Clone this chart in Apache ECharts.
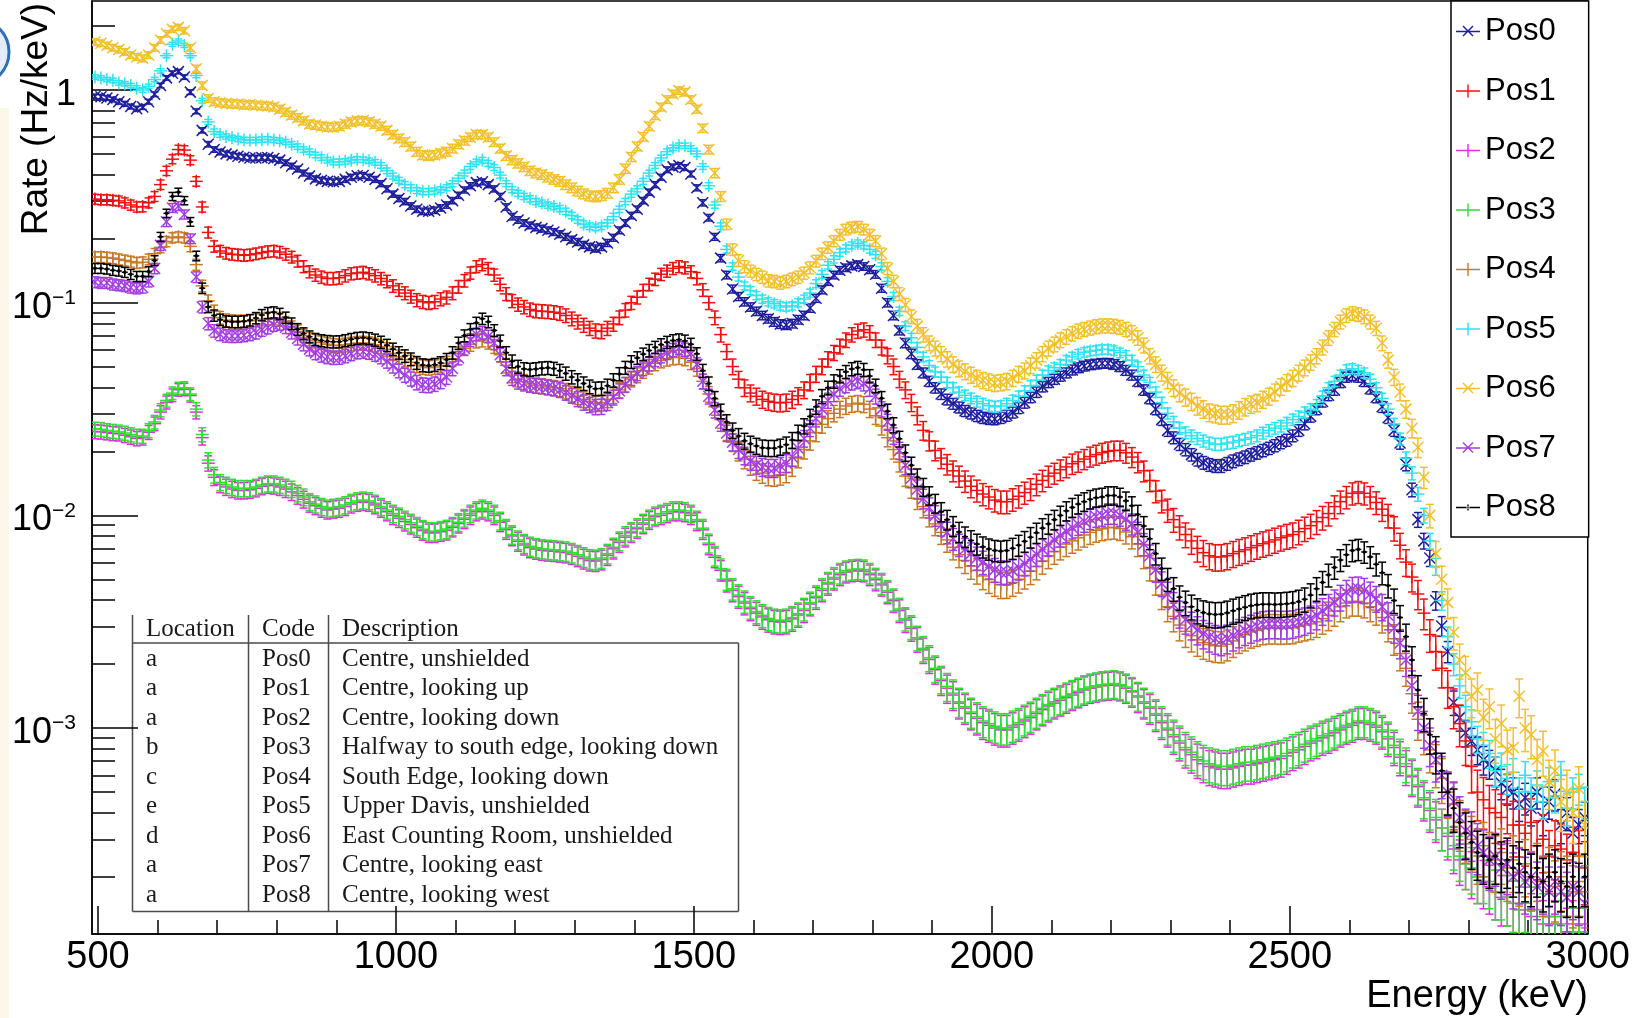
<!DOCTYPE html>
<html>
<head>
<meta charset="utf-8">
<script src="https://cdn.jsdelivr.net/npm/echarts@6/dist/echarts.min.js"></script>
<style>
html,body{margin:0;padding:0;background:#fff;}
#main{width:1633px;height:1018px;}
</style>
</head>
<body>
<div id="main"></div>
<script>
// ---------- data (Rate in Hz/keV, 10 keV bins starting at 490 keV) ----------
const binStart = 490;
const binWidth = 10;
const seriesNames = ['Pos0','Pos1','Pos2','Pos3','Pos4','Pos5','Pos6','Pos7','Pos8'];

const pos0 = [
0.933,0.929,0.918,0.902,0.881,0.861,0.836,0.817,0.832,0.881,
0.955,1.05,1.14,1.20,1.22,1.15,0.977,0.794,0.646,0.556,
0.525,0.511,0.501,0.494,0.488,0.483,0.479,0.479,0.481,0.481,
0.476,0.468,0.455,0.439,0.425,0.407,0.394,0.382,0.376,0.372,
0.370,0.372,0.380,0.389,0.395,0.396,0.389,0.380,0.363,0.343,
0.324,0.309,0.299,0.285,0.275,0.269,0.269,0.272,0.279,0.288,
0.302,0.320,0.339,0.355,0.367,0.370,0.359,0.343,0.316,0.282,
0.254,0.245,0.237,0.231,0.226,0.223,0.219,0.215,0.210,0.204,
0.198,0.193,0.187,0.183,0.180,0.183,0.191,0.202,0.219,0.237,
0.257,0.275,0.302,0.331,0.359,0.389,0.422,0.435,0.441,0.432,
0.403,0.347,0.295,0.251,0.204,0.162,0.135,0.116,0.107,0.101,
0.0955,0.0912,0.0871,0.0841,0.0813,0.0794,0.0785,0.0798,0.0832,0.0871,
0.0944,0.105,0.115,0.126,0.135,0.142,0.146,0.149,0.151,0.148,
0.143,0.136,0.117,0.100,0.0871,0.0741,0.0646,0.0575,0.0513,0.0468,
0.0427,0.0398,0.0372,0.0351,0.0335,0.0322,0.0310,0.0302,0.0294,0.0288,
0.0285,0.0284,0.0288,0.0295,0.0305,0.0320,0.0339,0.0359,0.0380,0.0403,
0.0422,0.0437,0.0452,0.0468,0.0483,0.0495,0.0504,0.0511,0.0515,0.0519,
0.0519,0.0513,0.0501,0.0481,0.0457,0.0427,0.0389,0.0355,0.0316,0.0282,
0.0251,0.0232,0.0216,0.0204,0.0193,0.0183,0.0177,0.0173,0.0171,0.0171,
0.0175,0.0180,0.0184,0.0188,0.0193,0.0197,0.0202,0.0207,0.0213,0.0220,
0.0226,0.0237,0.0251,0.0269,0.0292,0.0316,0.0343,0.0367,0.0389,0.0422,
0.0447,0.0455,0.0447,0.0427,0.0394,0.0359,0.0324,0.0288,0.0251,0.0219,
0.0174,0.0132,0.00955,0.00759,0.00631,0.00398,0.00302,0.00229,0.00132,0.00112,
0.00095,0.00087,0.00079,0.00071,0.00068,0.00063,0.00055,0.00052,0.00050,0.00044,
0.00047,0.00042,0.00050,0.00038,0.00045,0.00049,0.00035,0.00040,0.00032,0.00035,
0.00038];

const pos1 = [
0.307,0.305,0.305,0.303,0.301,0.295,0.288,0.282,0.283,0.295,
0.316,0.359,0.417,0.473,0.525,0.522,0.468,0.372,0.282,0.214,
0.184,0.175,0.171,0.169,0.168,0.167,0.168,0.170,0.172,0.174,
0.175,0.173,0.169,0.164,0.157,0.148,0.140,0.135,0.132,0.130,
0.130,0.131,0.134,0.137,0.138,0.139,0.137,0.134,0.130,0.126,
0.120,0.115,0.111,0.107,0.103,0.101,0.100,0.101,0.104,0.106,
0.111,0.119,0.127,0.138,0.148,0.151,0.145,0.135,0.122,0.110,
0.102,0.0982,0.0955,0.0929,0.0916,0.0912,0.0908,0.0902,0.0891,0.0871,
0.0841,0.0813,0.0785,0.0759,0.0738,0.0733,0.0759,0.0794,0.0851,0.0923,
0.100,0.106,0.114,0.122,0.129,0.136,0.141,0.145,0.148,0.146,
0.140,0.130,0.115,0.100,0.0851,0.0708,0.0589,0.0501,0.0437,0.0398,
0.0376,0.0363,0.0351,0.0344,0.0340,0.0338,0.0340,0.0351,0.0365,0.0389,
0.0422,0.0462,0.0501,0.0543,0.0582,0.0624,0.0668,0.0708,0.0736,0.0746,
0.0724,0.0668,0.0617,0.0562,0.0501,0.0437,0.0389,0.0339,0.0295,0.0251,
0.0224,0.0202,0.0186,0.0174,0.0162,0.0153,0.0145,0.0137,0.0131,0.0126,
0.0122,0.0118,0.0116,0.0116,0.0119,0.0123,0.0128,0.0133,0.0140,0.0146,
0.0153,0.0158,0.0164,0.0169,0.0175,0.0179,0.0184,0.0189,0.0193,0.0197,
0.0200,0.0202,0.0202,0.0197,0.0188,0.0178,0.0162,0.0146,0.0130,0.0117,
0.0106,0.00955,0.00881,0.00813,0.00759,0.00700,0.00668,0.00646,0.00637,0.00638,
0.00646,0.00661,0.00676,0.00689,0.00705,0.00721,0.00736,0.00750,0.00767,0.00785,
0.00800,0.00813,0.00838,0.00867,0.00895,0.00933,0.00977,0.0102,0.0110,0.0116,
0.0122,0.0127,0.0129,0.0127,0.0122,0.0115,0.0107,0.0100,0.00871,0.00724,
0.00603,0.00513,0.00427,0.00347,0.00275,0.00229,0.00191,0.00155,0.00126,0.00105,
0.00087,0.00066,0.00050,0.00046,0.00042,0.00040,0.00038,0.00044,0.00035,0.00035,
0.00032,0.00036,0.00028,0.00030,0.00025,0.00028,0.00027,0.00024,0.00026,0.00025,
0.00022];

const pos2 = [
0.0248,0.0247,0.0245,0.0243,0.0242,0.0238,0.0234,0.0230,0.0232,0.0246,
0.0270,0.0306,0.0340,0.0368,0.0390,0.0392,0.0366,0.0306,0.0232,0.0176,
0.0151,0.0140,0.0136,0.0133,0.0131,0.0131,0.0132,0.0134,0.0137,0.0139,
0.0138,0.0136,0.0133,0.0129,0.0124,0.0119,0.0114,0.0111,0.0108,0.0106,
0.0107,0.0108,0.0110,0.0113,0.0115,0.0116,0.0115,0.0112,0.0108,0.0104,
0.0100,0.00970,0.00935,0.00905,0.00875,0.00848,0.00828,0.00828,0.00838,0.00850,
0.00878,0.00915,0.00958,0.0100,0.0104,0.0106,0.0104,0.0100,0.00928,0.00856,
0.00800,0.00755,0.00726,0.00705,0.00694,0.00686,0.00681,0.00678,0.00673,0.00668,
0.00657,0.00642,0.00626,0.00613,0.00610,0.00620,0.00650,0.00696,0.00746,0.00790,
0.00828,0.00865,0.00908,0.00950,0.00985,0.0100,0.0102,0.0104,0.0104,0.0103,
0.0100,0.00938,0.00855,0.00728,0.00635,0.00552,0.00492,0.00444,0.00415,0.00387,
0.00364,0.00347,0.00333,0.00323,0.00317,0.00315,0.00317,0.00326,0.00340,0.00357,
0.00383,0.00410,0.00444,0.00476,0.00502,0.00526,0.00541,0.00548,0.00551,0.00547,
0.00526,0.00498,0.00471,0.00435,0.00397,0.00357,0.00322,0.00294,0.00262,0.00233,
0.00210,0.00188,0.00167,0.00154,0.00143,0.00131,0.00124,0.00117,0.00111,0.00106,
0.00103,0.00100,0.00098,0.00098,0.00101,0.00104,0.00108,0.00112,0.00117,0.00122,
0.00127,0.00131,0.00135,0.00139,0.00143,0.00147,0.00151,0.00154,0.00156,0.00158,
0.00159,0.00160,0.00158,0.00154,0.00148,0.00140,0.00131,0.00124,0.00115,0.00106,
0.00098,0.00091,0.00085,0.00079,0.00075,0.00071,0.00068,0.00066,0.00065,0.00064,
0.00064,0.00065,0.00066,0.00067,0.00067,0.00068,0.00069,0.00070,0.00071,0.00072,
0.00074,0.00077,0.00079,0.00082,0.00085,0.00087,0.00090,0.00092,0.00095,0.00098,
0.00101,0.00103,0.00106,0.00106,0.00104,0.00101,0.00096,0.00089,0.00081,0.00073,
0.00066,0.00059,0.00053,0.00046,0.00041,0.00037,0.00034,0.00031,0.00027,0.00024,
0.00023,0.00021,0.00020,0.00019,0.00018,0.00017,0.00016,0.00016,0.00015,0.00014,
0.00014,0.00013,0.00014,0.00012,0.00013,0.00012,0.00013,0.00011,0.00012,0.00011,
0.00012];

const pos3 = [
0.0255,0.0254,0.0251,0.0249,0.0247,0.0244,0.0240,0.0236,0.0236,0.0251,
0.0275,0.0313,0.0347,0.0376,0.0396,0.0398,0.0372,0.0316,0.0240,0.0182,
0.0155,0.0143,0.0139,0.0136,0.0134,0.0134,0.0134,0.0136,0.0139,0.0141,
0.0141,0.0139,0.0136,0.0133,0.0127,0.0122,0.0116,0.0113,0.0110,0.0108,
0.0109,0.0110,0.0112,0.0115,0.0117,0.0118,0.0117,0.0114,0.0110,0.0106,
0.0102,0.00989,0.00955,0.00923,0.00891,0.00861,0.00841,0.00841,0.00851,0.00863,
0.00891,0.00929,0.00973,0.0102,0.0106,0.0108,0.0106,0.0102,0.00944,0.00871,
0.00813,0.00767,0.00738,0.00716,0.00705,0.00697,0.00692,0.00689,0.00684,0.00679,
0.00668,0.00653,0.00637,0.00624,0.00621,0.00631,0.00661,0.00708,0.00759,0.00804,
0.00841,0.00879,0.00923,0.00966,0.0100,0.0102,0.0104,0.0106,0.0106,0.0105,
0.0102,0.00955,0.00871,0.00741,0.00646,0.00562,0.00501,0.00452,0.00422,0.00394,
0.00370,0.00353,0.00339,0.00328,0.00322,0.00320,0.00322,0.00331,0.00345,0.00363,
0.00389,0.00417,0.00452,0.00484,0.00511,0.00535,0.00550,0.00557,0.00560,0.00556,
0.00535,0.00507,0.00479,0.00442,0.00403,0.00363,0.00327,0.00299,0.00266,0.00237,
0.00214,0.00191,0.00170,0.00157,0.00146,0.00133,0.00126,0.00119,0.00113,0.00108,
0.00105,0.00102,0.00100,0.00100,0.00103,0.00106,0.00110,0.00114,0.00119,0.00124,
0.00129,0.00133,0.00137,0.00141,0.00145,0.00149,0.00153,0.00156,0.00158,0.00160,
0.00161,0.00162,0.00160,0.00156,0.00150,0.00142,0.00133,0.00126,0.00117,0.00108,
0.00100,0.00093,0.00087,0.00081,0.00077,0.00073,0.00070,0.00068,0.00067,0.00066,
0.00066,0.00067,0.00068,0.00069,0.00069,0.00070,0.00071,0.00072,0.00073,0.00074,
0.00076,0.00079,0.00081,0.00084,0.00087,0.00089,0.00092,0.00094,0.00097,0.00100,
0.00103,0.00105,0.00108,0.00108,0.00106,0.00103,0.00098,0.00091,0.00083,0.00075,
0.00068,0.00060,0.00054,0.00047,0.00042,0.00038,0.00034,0.00032,0.00028,0.00025,
0.00023,0.00022,0.00020,0.00020,0.00019,0.00017,0.00017,0.00016,0.00015,0.00014,
0.00015,0.00014,0.00014,0.00013,0.00013,0.00013,0.00012,0.00013,0.00011,0.00013,
0.00011];

const pos4 = [
0.164,0.164,0.163,0.162,0.160,0.158,0.156,0.154,0.155,0.160,
0.170,0.182,0.194,0.202,0.204,0.202,0.184,0.151,0.120,0.102,
0.0912,0.0851,0.0828,0.0820,0.0817,0.0818,0.0822,0.0828,0.0836,0.0843,
0.0845,0.0832,0.0804,0.0767,0.0733,0.0700,0.0676,0.0661,0.0649,0.0638,
0.0631,0.0628,0.0634,0.0641,0.0646,0.0647,0.0643,0.0634,0.0621,0.0603,
0.0578,0.0556,0.0540,0.0525,0.0509,0.0499,0.0495,0.0499,0.0507,0.0519,
0.0543,0.0575,0.0610,0.0638,0.0661,0.0668,0.0653,0.0624,0.0569,0.0507,
0.0457,0.0437,0.0425,0.0415,0.0409,0.0406,0.0402,0.0398,0.0394,0.0385,
0.0373,0.0363,0.0351,0.0343,0.0337,0.0339,0.0351,0.0367,0.0389,0.0412,
0.0437,0.0457,0.0479,0.0501,0.0519,0.0535,0.0545,0.0552,0.0555,0.0547,
0.0525,0.0490,0.0427,0.0372,0.0324,0.0282,0.0248,0.0221,0.0200,0.0184,
0.0172,0.0163,0.0158,0.0154,0.0153,0.0155,0.0159,0.0170,0.0186,0.0204,
0.0224,0.0245,0.0268,0.0285,0.0302,0.0316,0.0327,0.0334,0.0337,0.0333,
0.0316,0.0294,0.0263,0.0232,0.0204,0.0178,0.0153,0.0135,0.0120,0.0110,
0.0100,0.00912,0.00832,0.00767,0.00708,0.00653,0.00614,0.00578,0.00550,0.00519,
0.00499,0.00484,0.00473,0.00474,0.00484,0.00501,0.00522,0.00547,0.00575,0.00610,
0.00646,0.00676,0.00708,0.00733,0.00759,0.00785,0.00809,0.00832,0.00851,0.00865,
0.00875,0.00879,0.00867,0.00836,0.00794,0.00733,0.00646,0.00569,0.00490,0.00422,
0.00372,0.00335,0.00305,0.00285,0.00272,0.00260,0.00252,0.00247,0.00244,0.00243,
0.00248,0.00257,0.00268,0.00275,0.00283,0.00288,0.00293,0.00295,0.00295,0.00294,
0.00295,0.00296,0.00301,0.00305,0.00309,0.00316,0.00327,0.00339,0.00355,0.00372,
0.00387,0.00394,0.00394,0.00387,0.00372,0.00359,0.00331,0.00302,0.00263,0.00224,
0.00191,0.00145,0.00110,0.00095,0.00079,0.00068,0.00058,0.00050,0.00044,0.00036,
0.00032,0.00030,0.00026,0.00028,0.00025,0.00024,0.00026,0.00022,0.00024,0.00021,
0.00023,0.00020,0.00022,0.00019,0.00021,0.00018,0.00020,0.00019,0.00017,0.00019,
0.00017];

const pos5 = [
1.15,1.14,1.12,1.11,1.08,1.07,1.05,1.02,1.00,1.04,
1.12,1.23,1.45,1.64,1.70,1.62,1.45,1.17,0.891,0.708,
0.638,0.617,0.605,0.596,0.589,0.583,0.581,0.582,0.585,0.586,
0.582,0.578,0.569,0.556,0.542,0.525,0.513,0.495,0.481,0.468,
0.459,0.459,0.462,0.468,0.472,0.470,0.465,0.457,0.442,0.417,
0.394,0.376,0.359,0.347,0.337,0.333,0.333,0.335,0.340,0.347,
0.363,0.385,0.407,0.437,0.459,0.468,0.452,0.432,0.398,0.363,
0.340,0.327,0.316,0.308,0.299,0.294,0.288,0.283,0.277,0.269,
0.257,0.245,0.234,0.229,0.226,0.229,0.237,0.254,0.275,0.299,
0.324,0.343,0.372,0.407,0.442,0.479,0.513,0.535,0.547,0.547,
0.531,0.501,0.437,0.355,0.288,0.229,0.178,0.148,0.132,0.120,
0.114,0.108,0.104,0.101,0.0989,0.0966,0.0955,0.0966,0.100,0.104,
0.111,0.123,0.136,0.150,0.160,0.172,0.180,0.186,0.190,0.186,
0.178,0.168,0.148,0.126,0.107,0.0912,0.0776,0.0684,0.0617,0.0556,
0.0507,0.0473,0.0447,0.0422,0.0398,0.0380,0.0367,0.0355,0.0343,0.0335,
0.0328,0.0324,0.0327,0.0335,0.0347,0.0363,0.0385,0.0407,0.0432,0.0457,
0.0479,0.0495,0.0513,0.0537,0.0556,0.0573,0.0585,0.0592,0.0597,0.0603,
0.0603,0.0596,0.0582,0.0565,0.0537,0.0501,0.0457,0.0422,0.0380,0.0339,
0.0302,0.0275,0.0257,0.0245,0.0237,0.0230,0.0224,0.0219,0.0216,0.0216,
0.0219,0.0221,0.0225,0.0228,0.0232,0.0237,0.0244,0.0251,0.0257,0.0263,
0.0272,0.0282,0.0292,0.0305,0.0316,0.0331,0.0363,0.0398,0.0427,0.0457,
0.0484,0.0490,0.0481,0.0468,0.0437,0.0398,0.0355,0.0316,0.0269,0.0229,
0.0186,0.0158,0.0126,0.0100,0.00759,0.00575,0.00398,0.00269,0.00200,0.00158,
0.00126,0.00107,0.00089,0.00083,0.00076,0.00063,0.00066,0.00058,0.00062,0.00050,
0.00060,0.00050,0.00054,0.00045,0.00056,0.00048,0.00060,0.00042,0.00050,0.00052,
0.00045];

const pos6 = [
1.68,1.66,1.62,1.58,1.55,1.51,1.46,1.43,1.41,1.46,
1.58,1.72,1.84,1.93,1.97,1.90,1.58,1.26,1.05,0.912,
0.881,0.871,0.865,0.861,0.859,0.851,0.855,0.847,0.843,0.841,
0.832,0.813,0.787,0.762,0.741,0.716,0.692,0.684,0.676,0.670,
0.668,0.676,0.692,0.708,0.716,0.718,0.708,0.692,0.676,0.646,
0.617,0.592,0.569,0.543,0.513,0.495,0.490,0.495,0.504,0.513,
0.531,0.556,0.578,0.600,0.617,0.617,0.600,0.569,0.531,0.490,
0.468,0.452,0.435,0.417,0.407,0.400,0.389,0.380,0.372,0.359,
0.347,0.335,0.325,0.318,0.315,0.319,0.327,0.347,0.380,0.427,
0.484,0.543,0.603,0.676,0.759,0.832,0.902,0.959,0.993,0.977,
0.902,0.813,0.661,0.525,0.407,0.316,0.234,0.178,0.158,0.148,
0.141,0.136,0.132,0.127,0.126,0.124,0.126,0.129,0.132,0.138,
0.146,0.157,0.170,0.182,0.195,0.209,0.221,0.226,0.228,0.221,
0.209,0.195,0.170,0.145,0.126,0.110,0.0977,0.0861,0.0776,0.0708,
0.0646,0.0610,0.0575,0.0543,0.0513,0.0490,0.0475,0.0457,0.0442,0.0432,
0.0425,0.0419,0.0422,0.0427,0.0442,0.0462,0.0479,0.0507,0.0537,0.0575,
0.0610,0.0638,0.0668,0.0692,0.0716,0.0736,0.0750,0.0762,0.0773,0.0780,
0.0780,0.0776,0.0767,0.0750,0.0724,0.0684,0.0631,0.0562,0.0513,0.0468,
0.0432,0.0398,0.0376,0.0359,0.0343,0.0327,0.0316,0.0305,0.0301,0.0297,
0.0297,0.0302,0.0313,0.0324,0.0333,0.0339,0.0351,0.0363,0.0380,0.0403,
0.0422,0.0442,0.0468,0.0495,0.0525,0.0562,0.0617,0.0684,0.0750,0.0813,
0.0871,0.0891,0.0881,0.0861,0.0813,0.0759,0.0646,0.0537,0.0447,0.0380,
0.0316,0.0257,0.0209,0.0151,0.0100,0.00661,0.00501,0.00389,0.00282,0.00209,
0.00182,0.00141,0.00151,0.00112,0.00126,0.00089,0.00105,0.00079,0.00081,0.00141,
0.00100,0.00093,0.00071,0.00078,0.00056,0.00063,0.00045,0.00050,0.00040,0.00052,
0.00035];

const pos7 = [
0.125,0.124,0.124,0.122,0.121,0.120,0.118,0.117,0.118,0.126,
0.145,0.186,0.240,0.279,0.285,0.260,0.200,0.132,0.0955,0.0798,
0.0738,0.0711,0.0700,0.0697,0.0698,0.0703,0.0711,0.0724,0.0745,0.0764,
0.0785,0.0794,0.0767,0.0724,0.0679,0.0638,0.0605,0.0581,0.0566,0.0557,
0.0552,0.0553,0.0562,0.0575,0.0586,0.0589,0.0583,0.0571,0.0556,0.0531,
0.0504,0.0479,0.0457,0.0439,0.0422,0.0411,0.0409,0.0415,0.0427,0.0447,
0.0490,0.0550,0.0610,0.0668,0.0711,0.0724,0.0695,0.0646,0.0569,0.0490,
0.0442,0.0425,0.0417,0.0411,0.0407,0.0405,0.0401,0.0396,0.0389,0.0378,
0.0366,0.0353,0.0340,0.0331,0.0324,0.0325,0.0339,0.0359,0.0385,0.0412,
0.0442,0.0465,0.0490,0.0515,0.0540,0.0562,0.0582,0.0600,0.0612,0.0603,
0.0575,0.0513,0.0427,0.0363,0.0313,0.0272,0.0244,0.0221,0.0204,0.0191,
0.0180,0.0173,0.0169,0.0167,0.0167,0.0171,0.0176,0.0188,0.0207,0.0230,
0.0257,0.0285,0.0316,0.0347,0.0372,0.0394,0.0409,0.0421,0.0427,0.0417,
0.0394,0.0363,0.0316,0.0275,0.0237,0.0202,0.0172,0.0150,0.0133,0.0120,
0.0109,0.0100,0.00902,0.00832,0.00776,0.00728,0.00695,0.00661,0.00631,0.00603,
0.00575,0.00556,0.00542,0.00540,0.00550,0.00569,0.00594,0.00624,0.00656,0.00692,
0.00729,0.00767,0.00804,0.00841,0.00875,0.00908,0.00938,0.00966,0.00989,0.0100,
0.0102,0.0102,0.0100,0.00959,0.00912,0.00832,0.00733,0.00646,0.00556,0.00479,
0.00427,0.00380,0.00345,0.00324,0.00305,0.00290,0.00278,0.00269,0.00263,0.00259,
0.00264,0.00272,0.00281,0.00288,0.00295,0.00302,0.00307,0.00309,0.00309,0.00308,
0.00308,0.00310,0.00315,0.00320,0.00327,0.00339,0.00355,0.00372,0.00391,0.00412,
0.00435,0.00450,0.00452,0.00445,0.00427,0.00407,0.00372,0.00339,0.00295,0.00251,
0.00209,0.00158,0.00120,0.00100,0.00083,0.00071,0.00060,0.00050,0.00045,0.00038,
0.00033,0.00032,0.00028,0.00026,0.00024,0.00025,0.00022,0.00023,0.00020,0.00021,
0.00019,0.00020,0.00018,0.00019,0.00017,0.00019,0.00017,0.00016,0.00018,0.00017,
0.00015];

const pos8 = [
0.145,0.145,0.144,0.142,0.141,0.139,0.136,0.133,0.133,0.140,
0.158,0.204,0.263,0.316,0.331,0.302,0.240,0.166,0.117,0.0955,
0.0871,0.0832,0.0817,0.0813,0.0813,0.0817,0.0828,0.0847,0.0875,0.0895,
0.0902,0.0887,0.0851,0.0798,0.0750,0.0716,0.0692,0.0673,0.0664,0.0658,
0.0655,0.0656,0.0664,0.0673,0.0681,0.0684,0.0679,0.0668,0.0653,0.0631,
0.0605,0.0582,0.0562,0.0543,0.0522,0.0509,0.0506,0.0511,0.0521,0.0540,
0.0582,0.0646,0.0700,0.0750,0.0804,0.0841,0.0813,0.0741,0.0661,0.0582,
0.0531,0.0501,0.0488,0.0485,0.0488,0.0492,0.0494,0.0490,0.0479,0.0465,
0.0447,0.0432,0.0417,0.0403,0.0394,0.0395,0.0407,0.0432,0.0462,0.0495,
0.0527,0.0550,0.0573,0.0596,0.0617,0.0635,0.0652,0.0664,0.0670,0.0661,
0.0638,0.0575,0.0479,0.0417,0.0355,0.0309,0.0275,0.0251,0.0236,0.0224,
0.0217,0.0212,0.0208,0.0207,0.0207,0.0210,0.0215,0.0226,0.0245,0.0263,
0.0292,0.0324,0.0363,0.0398,0.0427,0.0452,0.0473,0.0488,0.0495,0.0484,
0.0452,0.0407,0.0355,0.0309,0.0266,0.0229,0.0197,0.0172,0.0151,0.0136,
0.0124,0.0114,0.0104,0.00955,0.00891,0.00836,0.00794,0.00762,0.00733,0.00711,
0.00695,0.00684,0.00679,0.00684,0.00700,0.00724,0.00755,0.00789,0.00828,0.00871,
0.00912,0.00955,0.0100,0.0105,0.0109,0.0113,0.0116,0.0119,0.0121,0.0122,
0.0124,0.0124,0.0122,0.0117,0.0111,0.0101,0.00891,0.00776,0.00661,0.00562,
0.00501,0.00452,0.00412,0.00389,0.00372,0.00357,0.00349,0.00344,0.00342,0.00343,
0.00348,0.00356,0.00363,0.00370,0.00376,0.00380,0.00382,0.00382,0.00381,0.00382,
0.00384,0.00387,0.00393,0.00403,0.00422,0.00452,0.00484,0.00525,0.00569,0.00617,
0.00653,0.00684,0.00692,0.00673,0.00638,0.00589,0.00537,0.00468,0.00398,0.00331,
0.00269,0.00209,0.00151,0.00117,0.00093,0.00076,0.00063,0.00050,0.00042,0.00036,
0.00032,0.00029,0.00026,0.00025,0.00024,0.00025,0.00023,0.00024,0.00022,0.00023,
0.00021,0.00020,0.00022,0.00019,0.00020,0.00021,0.00019,0.00018,0.00020,0.00018,
0.00020];

// relative error coefficient read from the error-bar lengths (rel. err = k * rate^-0.25)
const relErrCoef = [0.025, 0.04, 0.03, 0.03, 0.037, 0.025, 0.04, 0.035, 0.033];

// axis ticks
const xMajorTicks = [500, 1000, 1500, 2000, 2500, 3000];
const xMinorTicks = [600,700,800,900,1100,1200,1300,1400,1600,1700,1800,1900,2100,2200,2300,2400,2600,2700,2800,2900];
const yMajorTicks = [0.001, 0.01, 0.1, 1];
const yMinorTicks = [2e-4,3e-4,4e-4,5e-4,6e-4,7e-4,8e-4,9e-4,
  2e-3,3e-3,4e-3,5e-3,6e-3,7e-3,8e-3,9e-3,
  0.02,0.03,0.04,0.05,0.06,0.07,0.08,0.09,
  0.2,0.3,0.4,0.5,0.6,0.7,0.8,0.9,2];

// inset table
const tableHeader = ['Location', 'Code', 'Description'];
const tableLocation = ['a','a','a','b','c','e','d','a','a'];
const tableCode = ['Pos0','Pos1','Pos2','Pos3','Pos4','Pos5','Pos6','Pos7','Pos8'];
const tableDesc = ['Centre, unshielded','Centre, looking up','Centre, looking down',
  'Halfway to south edge, looking down','South Edge, looking down','Upper Davis, unshielded',
  'East Counting Room, unshielded','Centre, looking east','Centre, looking west'];

// ---------- styling ----------
const colors = ['#1e1e9c','#ee1111','#e22ee2','#36dc36','#c77a26','#2fe3ee','#f0c12c','#a23ee0','#000000'];
const markers = ['x','+','+','+','+','+','x','x','dot'];
const allValues = [pos0,pos1,pos2,pos3,pos4,pos5,pos6,pos7,pos8];
const SANS = '"Liberation Sans", Arial, Helvetica, sans-serif';
const SERIF = '"Liberation Serif", "Times New Roman", serif';

function buildSeries(idx) {
  const vals = allValues[idx];
  const k = relErrCoef[idx];
  const color = colors[idx];
  const marker = markers[idx];
  const data = vals.map(function (v, i) {
    const e = v * k * Math.pow(v, -0.25);
    return [binStart + binWidth * (i + 0.5), v, Math.max(v - e, 1e-7), v + e];
  });
  return {
    type: 'custom',
    name: seriesNames[idx],
    data: data,
    clip: true,
    xAxisIndex: 0,
    yAxisIndex: 0,
    encode: { x: 0, y: 1 },
    itemStyle: { color: color },
    z: 2 + idx * 0.01,
    renderItem: function (params, api) {
      const xv = api.value(0);
      const p = api.coord([xv, api.value(1)]);
      const lo = api.coord([xv, api.value(2)]);
      const hi = api.coord([xv, api.value(3)]);
      const x = p[0], y = p[1];
      const st = { stroke: color, lineWidth: 1.5, fill: null };
      const ch = [
        { type: 'line', shape: { x1: x, y1: hi[1], x2: x, y2: lo[1] }, style: st },
        { type: 'line', shape: { x1: x - 4, y1: hi[1], x2: x + 4, y2: hi[1] }, style: st },
        { type: 'line', shape: { x1: x - 4, y1: lo[1], x2: x + 4, y2: lo[1] }, style: st }
      ];
      if (marker === '+') {
        ch.push({ type: 'line', shape: { x1: x - 6.5, y1: y, x2: x + 6.5, y2: y }, style: st });
        ch.push({ type: 'line', shape: { x1: x, y1: y - 6.5, x2: x, y2: y + 6.5 }, style: st });
      } else if (marker === 'x') {
        ch.push({ type: 'line', shape: { x1: x - 5.5, y1: y - 5.5, x2: x + 5.5, y2: y + 5.5 }, style: st });
        ch.push({ type: 'line', shape: { x1: x - 5.5, y1: y + 5.5, x2: x + 5.5, y2: y - 5.5 }, style: st });
      } else {
        ch.push({ type: 'line', shape: { x1: x - 3, y1: y, x2: x + 3, y2: y }, style: st });
        ch.push({ type: 'circle', shape: { cx: x, cy: y, r: 1.8 }, style: { fill: color } });
      }
      return { type: 'group', children: ch };
    }
  };
}

// legend icons (24 x 30 box; tiny corner specks fix the bounding box)
const ICON_BOX = 'M0 0L0.05 0L0 0.05Z M24 30L23.95 30L24 29.95Z ';
const ICON_LINE = 'M0 14.3H24V15.7H0Z ';
const ICON_PLUS = 'M11.3 8.5H12.7V21.5H11.3Z ';
const ICON_X = 'M6.5 10L7.5 9L17.5 19L16.5 20Z M16.5 9L17.5 10L7.5 20L6.5 19Z ';
const ICON_DOT = 'M11.3 12H12.7V18H11.3Z M10.4 15A1.6 1.6 0 1 0 13.6 15A1.6 1.6 0 1 0 10.4 15Z ';
function legendIcon(m) {
  let p = ICON_BOX + ICON_LINE;
  if (m === '+') p += ICON_PLUS;
  else if (m === 'x') p += ICON_X;
  else p += ICON_DOT;
  return 'path://' + p;
}

// table graphics
function tableGraphics() {
  const L = 132.5, R = 738.5, T = 615, B = 911.5, H = 643, C1 = 248.5, C2 = 328.5;
  const lineStyle = { stroke: '#4a4a4a', lineWidth: 1.5 };
  const els = [
    { type: 'rect', shape: { x: L, y: T, width: R - L, height: B - T }, style: { fill: '#ffffff' } },
    { type: 'line', shape: { x1: L, y1: T, x2: L, y2: B }, style: lineStyle },
    { type: 'line', shape: { x1: R, y1: H, x2: R, y2: B }, style: lineStyle },
    { type: 'line', shape: { x1: L, y1: B, x2: R, y2: B }, style: lineStyle },
    { type: 'line', shape: { x1: L, y1: H, x2: R, y2: H }, style: lineStyle },
    { type: 'line', shape: { x1: C1, y1: T, x2: C1, y2: B }, style: lineStyle },
    { type: 'line', shape: { x1: C2, y1: T, x2: C2, y2: B }, style: lineStyle }
  ];
  const colX = [146, 262, 342];
  function txt(s, x, y) {
    return { type: 'text', x: x, y: y,
      style: { text: s, font: '25px ' + SERIF, fill: '#1a1a1a',
               align: 'left', verticalAlign: 'middle', textAlign: 'left', textVerticalAlign: 'middle' } };
  }
  tableHeader.forEach(function (h, j) { els.push(txt(h, colX[j], 629)); });
  for (let i = 0; i < tableCode.length; i++) {
    const y = 659 + 29.5 * i;
    els.push(txt(tableLocation[i], colX[0], y));
    els.push(txt(tableCode[i], colX[1], y));
    els.push(txt(tableDesc[i], colX[2], y));
  }
  return { type: 'group', z: 100, children: els };
}

const chart = echarts.init(document.getElementById('main'), null, { renderer: 'canvas' });

const axisLineStyle = { color: '#000', width: 1.5 };

const option = {
  animation: false,
  backgroundColor: '#ffffff',
  grid: { left: 92, top: 1, width: 1498, height: 933, show: true, borderColor: '#000', borderWidth: 1.5, backgroundColor: 'transparent', containLabel: false },
  xAxis: [
    { type: 'value', min: 490, max: 3000, position: 'bottom', gridIndex: 0,
      axisLine: { show: true, lineStyle: axisLineStyle },
      axisTick: { show: true, inside: true, length: 28, customValues: xMajorTicks, lineStyle: axisLineStyle },
      axisLabel: { show: true, customValues: xMajorTicks, margin: 5, fontSize: 38, fontFamily: SANS, color: '#000',
                   formatter: function (v) { return String(Math.round(v)); } },
      splitLine: { show: false } },
    { type: 'value', min: 490, max: 3000, position: 'bottom', gridIndex: 0,
      axisLine: { show: false },
      axisTick: { show: true, inside: true, length: 14, customValues: xMinorTicks, lineStyle: axisLineStyle },
      axisLabel: { show: false },
      splitLine: { show: false } }
  ],
  yAxis: [
    { type: 'log', logBase: 10, min: 1.076e-4, max: 2.621, position: 'left', gridIndex: 0,
      axisLine: { show: true, lineStyle: axisLineStyle },
      axisTick: { show: true, inside: true, length: 46, customValues: yMajorTicks, lineStyle: axisLineStyle },
      axisLabel: {
        show: true, customValues: yMajorTicks, margin: 16, padding: [10, 0, 0, 0],
        formatter: function (v) {
          const e = Math.round(Math.log10(v));
          if (e === 0) return '{b|1}';
          return '{b|10}{s|\u2212' + (-e) + '}';
        },
        rich: {
          b: { fontSize: 36, fontFamily: SANS, color: '#000', lineHeight: 40 },
          s: { fontSize: 21, fontFamily: SANS, color: '#000', lineHeight: 40, verticalAlign: 'top' }
        }
      },
      splitLine: { show: false } },
    { type: 'log', logBase: 10, min: 1.076e-4, max: 2.621, position: 'left', gridIndex: 0,
      axisLine: { show: false },
      axisTick: { show: true, inside: true, length: 23, customValues: yMinorTicks, lineStyle: axisLineStyle },
      axisLabel: { show: false },
      splitLine: { show: false } }
  ],
  legend: {
    orient: 'vertical', left: 1451, top: 1,
    itemWidth: 24, itemHeight: 30, itemGap: 28.5, itemTextGap: 6,
    padding: [15, 33, 14, 5],
    backgroundColor: '#ffffff', borderColor: '#000', borderWidth: 1.5,
    textStyle: { fontSize: 31, fontFamily: SANS, color: '#000' },
    selectedMode: false,
    data: seriesNames.map(function (n, i) { return { name: n, icon: legendIcon(markers[i]) }; })
  },
  graphic: [
    { type: 'rect', shape: { x: 0, y: 108, width: 9, height: 910 }, style: { fill: '#fcf7e8' }, z: 1 },
    { type: 'circle', shape: { cx: -24, cy: 52, r: 33 }, style: { fill: '#e4edf7', stroke: '#2f6db5', lineWidth: 3 }, z: 1 },
    { type: 'text', x: 37, y: 3, rotation: Math.PI / 2,
      style: { text: 'Rate (Hz/keV)', font: '37px ' + SANS, fill: '#000',
               align: 'right', verticalAlign: 'middle', textAlign: 'right', textVerticalAlign: 'middle' }, z: 10 },
    { type: 'text', x: 1588, y: 997,
      style: { text: 'Energy (keV)', font: '38px ' + SANS, fill: '#000',
               align: 'right', verticalAlign: 'middle', textAlign: 'right', textVerticalAlign: 'middle' }, z: 10 },
    tableGraphics()
  ],
  series: seriesNames.map(function (n, i) { return buildSeries(i); })
};

chart.setOption(option);
</script>
</body>
</html>
